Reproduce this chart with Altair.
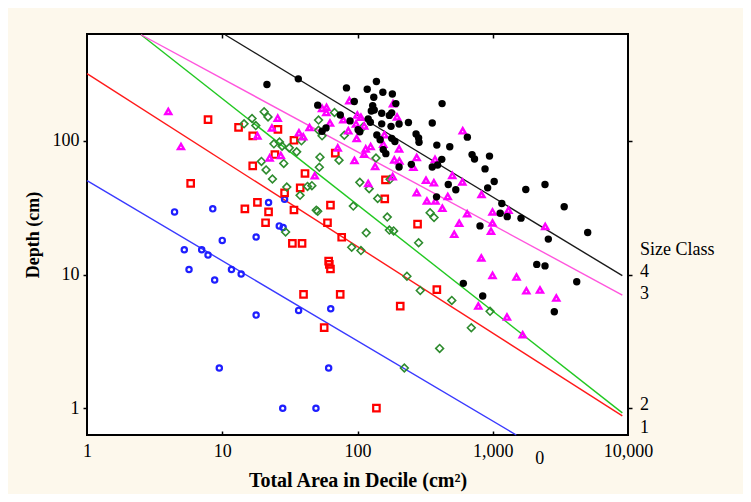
import altair as alt
import pandas as pd

FONT = "Liberation Serif"

classes = ["0", "1", "2", "3", "4"]

# ---- scatter data (Total Area in Decile, Depth) per size class ----
area_0 = [4.44, 8.51, 22.0, 28.9, 26.4, 28.2, 5.24, 5.68, 7.05, 7.85, 10.0, 8.79, 11.7, 13.8,
          17.8, 17.8, 36.7, 63.4, 9.51, 61.2, 28.0, 49.3]
depth_0 = [29.4, 31.0, 34.6, 36.5, 23.1, 22.5, 15.3, 10.9, 15.3, 14.0, 18.0, 9.1, 10.9, 10.1,
           19.1, 4.97, 5.39, 5.55, 2.0, 2.0, 1.0, 1.0]

area_1 = [7.85, 13.2, 16.8, 25.8, 33.9, 24.5, 16.8, 5.84, 40.9, 37.7, 28.9, 68.5, 14.7, 18.2,
          22.0, 33.9, 63.1, 20.9, 60.0, 33.0, 38.9, 76.4, 61.2, 61.9, 63.1, 39.9, 74.5, 56.7,
          138, 161, 159, 278, 386, 207]
depth_1 = [144, 126, 109, 122, 101, 79, 65, 48, 57, 44.5, 40.8, 81, 31, 34.7,
           29.4, 30.4, 33, 24.4, 24.4, 17.1, 17.1, 19, 12.6, 11.9, 11.0, 7.1, 7.1, 4.0,
           1.0, 51, 36.8, 23.8, 7.7, 5.8]

area_2 = [20.4, 21.8, 16.6, 14.5, 17.7, 51.5, 67.6, 51.5, 54.7, 79.9, 110, 24.1, 26.5, 27.7,
          31.3, 38.5, 35.5, 52.8, 73.0, 52.2, 137, 19.5, 28.5, 21.1, 23.5, 30.0, 42.7, 46.0,
          37.6, 104, 122, 141, 174, 93.1, 50.8, 49.6, 29.4, 166, 172, 185, 116, 344, 368,
          283, 90.6, 106, 232, 291, 498, 694, 955, 405, 222]
depth_2 = [165, 151, 147, 134, 130, 143, 163, 120, 109, 110, 127, 95, 98, 91.3,
           88.6, 100, 82.7, 75.5, 71.7, 63.5, 74.3, 70.2, 67.8, 60.6, 51.8, 45.1, 45.6, 46.2,
           39.1, 48.9, 43.9, 37.0, 51.5, 32.5, 29.7, 30.3, 20.8, 26.9, 21.5, 21.2, 20.5, 29.0, 26.7,
           17.3, 16.0, 15.1, 9.7, 7.6, 6.4, 4.0, 5.3, 2.8, 2.0]

area_3 = [3.99, 4.95, 25.7, 23.3, 18.2, 36.9, 39.7, 44.2, 22.4, 27.1, 48.3, 54.7, 59.0, 58.8,
          62.6, 87.0, 78.5, 85.5, 99.7, 106, 97.5, 112, 98.6, 71.4, 115, 125, 112, 95.0, 135,
          120, 183, 196, 158, 155, 203, 187, 204, 274, 259, 374, 321, 367, 502, 596, 465, 274,
          326, 377, 182, 600, 826, 424, 647, 996, 1307, 565, 996, 971, 519, 2443, 823, 996,
          1499, 1771, 2235, 2951, 782, 1274, 1665]
depth_3 = [166, 90.6, 148, 125, 109, 115, 107.5, 126, 74.6, 77.6, 54.8, 175, 178, 163,
           136, 200, 144, 119, 156, 150, 134, 129.5, 104, 88.6, 87.1, 90.6, 79.5, 71.2, 64.4,
           48.0, 190, 151, 111, 94.4, 87.1, 72.1, 70.8, 75.0, 63.5, 72.7, 50.8, 48.6, 55.2, 49.3,
           38.3, 41.0, 35.5, 35.5, 54.0, 119, 39.7, 31.3, 28.5, 29.4, 30.3, 24.2, 24.3, 21.1, 20.0,
           22.9, 13.3, 9.86, 9.58, 7.55, 7.65, 6.67, 5.81, 4.81, 3.55]

area_4 = [21.4, 36.5, 82.9, 118, 138, 154, 181, 132, 192, 422, 94.7, 50.8, 129.5, 133, 126.5,
          151, 172, 179, 74.6, 88.1, 120, 124.4, 151, 177, 203, 238, 357, 58.5, 54.7, 101, 104,
          139, 147, 179, 189, 271, 283, 285, 155, 162, 386, 481, 649, 203, 250, 357, 391, 420,
          703, 733, 946, 877, 1025, 469, 533, 384, 917, 1167, 1135, 1279, 1618, 1755, 2434,
          3375, 805, 2576, 5035, 2115, 2434, 4178, 606, 843, 2852]
depth_4 = [264, 291, 249, 243, 278, 231, 224, 212, 190, 190, 197, 185, 183.5, 170, 167,
           161, 155, 162, 156, 141, 145.5, 137.6, 134, 128.4, 133.6, 137, 136, 125, 118, 121, 117,
           110.5, 102, 104.4, 99, 112.5, 105, 97.5, 86, 80.2, 92.9, 90.2, 106.6, 63.8, 66.7, 63.8,
           65.9, 72.7, 78.9, 73.1, 76.9, 61.7, 49.7, 47.2, 43.1, 38.1, 44.5, 34.0, 28.7, 27.1,
           26.4, 43.2, 47.1, 32.1, 23.1, 18.4, 20.6, 11.9, 11.6, 8.83, 8.59, 6.90, 5.27]

# ---- fitted lines (start / end points) per size class ----
line_start_area = [1, 1, 2.51, 2.51, 10.5]
line_start_depth = [50.4, 318, 622, 622, 622]
line_end_area = [1493, 9080, 9080, 9080, 9080]
line_end_depth = [0.63, 0.875, 0.922, 7.02, 9.8]
line_colors = ["#3a3aff", "#ff1a1a", "#22c822", "#ff55dd", "#1a1a1a"]

# ---- size-class labels ----
label_text = ["Size Class", "4", "3", "2", "1"]
label_area = [10000, 10000, 10000, 10000, 10000]
label_depth = [15.3, 10.5, 7.14, 1.05, 0.705]
zero_text = ["0"]
zero_area = [2230]
zero_depth = [0.42]

x_ticks = [1, 10, 100, 1000, 10000]
y_ticks = [1, 10, 100]
inner_ticks = [10, 100, 1000]

x_scale = alt.Scale(type="log", domain=[1, 10000], nice=False)
y_scale = alt.Scale(type="log", domain=[0.63, 630], nice=False)

main_x_axis = alt.Axis(orient="bottom", values=x_ticks, format=",", tickSize=0, domain=False,
                       grid=False, labelFont=FONT, labelFontSize=18, labelColor="black",
                       labelPadding=7, labelFlush=False, labelOverlap=False,
                       title="Total Area in Decile (cm²)", titleFont=FONT, titleFontSize=20,
                       titleFontWeight="bold", titleColor="black", titlePadding=10)
main_y_axis = alt.Axis(orient="left", values=y_ticks, format="d", tickSize=4, tickColor="black",
                       tickWidth=1.5, domain=False, grid=False, labelFont=FONT, labelFontSize=18,
                       labelColor="black", labelPadding=4, labelFlush=False, labelOverlap=False,
                       title="Depth (cm)", titleFont=FONT, titleFontSize=18,
                       titleFontWeight="bold", titleColor="black", titlePadding=10)
top_axis = alt.Axis(orient="top", values=inner_ticks, offset=-4, tickSize=4, tickColor="black",
                    tickWidth=1.5, labels=False, domain=False, grid=False)
right_axis = alt.Axis(orient="right", values=y_ticks, tickSize=4, tickColor="black",
                      tickWidth=1.5, labels=False, domain=False, grid=False)
bottom_inner_axis = alt.Axis(orient="bottom", values=inner_ticks, offset=-4, tickSize=4,
                             tickColor="black", tickWidth=1.5, labels=False, domain=False,
                             grid=False)

styles = {
    "0": dict(shape="circle", color="#1f1fff", size=28, filled=False, strokeWidth=2.2),
    "1": dict(shape="square", color="#ff0000", size=42, filled=False, strokeWidth=2.2),
    "2": dict(shape="diamond", color="#2e8b2e", size=60, filled=False, strokeWidth=1.6),
    "3": dict(shape="triangle-up", color="#ff00ff", size=36, filled=False, strokeWidth=2.4),
    "4": dict(shape="circle", color="#000000", size=55, filled=True, strokeWidth=0.5),
}
areas = [area_0, area_1, area_2, area_3, area_4]
depths = [depth_0, depth_1, depth_2, depth_3, depth_4]

layers = []

# lines
line_df = pd.DataFrame({
    "area": line_start_area + line_end_area,
    "depth": line_start_depth + line_end_depth,
    "cls": classes + classes,
})
lines = alt.Chart(line_df).mark_line(strokeWidth=1.4).encode(
    x=alt.X("area:Q", scale=x_scale, axis=top_axis, title=None),
    y=alt.Y("depth:Q", scale=y_scale, axis=right_axis, title=None),
    color=alt.Color("cls:N", scale=alt.Scale(domain=classes, range=line_colors), legend=None),
    detail="cls:N",
)
layers.append(lines)

for i, c in enumerate(classes):
    df = pd.DataFrame({"area": areas[i], "depth": depths[i]})
    st = styles[c]
    if i == 0:
        xenc = alt.X("area:Q", scale=x_scale, axis=main_x_axis)
        yenc = alt.Y("depth:Q", scale=y_scale, axis=main_y_axis)
    else:
        xenc = alt.X("area:Q", scale=x_scale, axis=None)
        yenc = alt.Y("depth:Q", scale=y_scale, axis=None)
    layers.append(alt.Chart(df).mark_point(
        shape=st["shape"], color=st["color"], size=st["size"], filled=st["filled"],
        strokeWidth=st["strokeWidth"], opacity=1,
    ).encode(x=xenc, y=yenc))

lab_df = pd.DataFrame({"area": label_area, "depth": label_depth, "text": label_text})
labels = alt.Chart(lab_df).mark_text(
    align="left", baseline="middle", dx=12, font=FONT, fontSize=18, color="black", clip=False
).encode(
    x=alt.X("area:Q", scale=x_scale, axis=bottom_inner_axis, title=None),
    y=alt.Y("depth:Q", scale=y_scale, axis=None),
    text="text:N",
)
layers.append(labels)

zero_df = pd.DataFrame({"area": zero_area, "depth": zero_depth, "text": zero_text})
zero = alt.Chart(zero_df).mark_text(
    align="center", baseline="middle", font=FONT, fontSize=18, color="black", clip=False
).encode(
    x=alt.X("area:Q", scale=x_scale, axis=None),
    y=alt.Y("depth:Q", scale=y_scale, axis=None),
    text="text:N",
)
layers.append(zero)

chart = alt.layer(*layers).resolve_axis(x="independent", y="independent").properties(
    width=541,
    height=401,
    autosize=alt.AutoSizeParams(type="none"),
    padding={"left": 79, "top": 26, "right": 115, "bottom": 59},
    background="#fdf8ec",
).configure_view(stroke="black", strokeWidth=2, fill="white")

chart.save("out.html", embed_options={"renderer": "svg", "actions": False})
